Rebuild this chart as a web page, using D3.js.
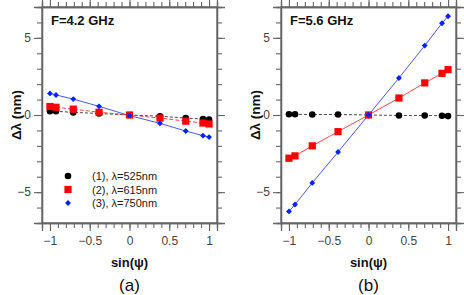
<!DOCTYPE html>
<html>
<head>
<meta charset="utf-8">
<script src="https://cdn.jsdelivr.net/npm/d3@7"></script>
<style>
  body { margin: 0; background: #fff; }
  svg { display: block; font-family: "Liberation Sans", Arial, sans-serif; }
</style>
</head>
<body>
<div id="chart"></div>
<script>
// sin(psi) values used for every series
var sinPsi = [-1, -0.924, -0.707, -0.383, 0, 0.383, 0.707, 0.924, 1];

// panel (a), F = 4.2 GHz
var a525 = [0.24, 0.24, 0.17, 0.1, 0, -0.08, -0.2, -0.26, -0.3];
var a615 = [0.55, 0.5, 0.38, 0.18, 0, -0.2, -0.4, -0.52, -0.58];
var a750 = [1.4, 1.3, 1.03, 0.56, -0.04, -0.54, -1.04, -1.34, -1.43];

// panel (b), F = 5.6 GHz
var b525 = [0.05, 0.05, 0.03, 0.03, 0, -0.03, -0.03, -0.05, -0.07];
var b615 = [-2.8, -2.65, -2.0, -1.08, 0, 1.1, 2.08, 2.7, 2.94];
var b750 = [-6.25, -5.8, -4.4, -2.4, 0, 2.4, 4.5, 5.95, 6.4];

var panelTitles = ["F=4.2 GHz", "F=5.6 GHz"];
var panelTags = ["(a)", "(b)"];
var legendLabels = ["(1), \u03bb=525nm", "(2), \u03bb=615nm", "(3), \u03bb=750nm"];
var yTickLabels = [-5, 0, 5];
var xTickLabels = [-1, -0.5, 0, 0.5, 1];

var svg = d3.select("#chart").append("svg")
    .attr("width", 464)
    .attr("height", 295);

var panels = [
  {left: 42, series: [a525, a615, a750], dash: ["3,2", "4,2", null]},
  {left: 281, series: [b525, b615, b750], dash: ["3,2", null, null]}
];
var plotW = 175, plotTop = 7, plotH = 216;

var colors = ["#000000", "#ff0000", "#0022ff"];
var lineColors = ["#333333", "#ff3333", "#3344ff"];

function fmt(v) { return v < 0 ? "\u2212" + Math.abs(v) : "" + v; }

function drawMarker(g, k, x, y) {
  if (k == 0) {
    g.append("circle").attr("cx", x).attr("cy", y).attr("r", 3.3).attr("fill", colors[0]);
  } else if (k == 1) {
    g.append("rect").attr("x", x - 3.6).attr("y", y - 3.6).attr("width", 7.2).attr("height", 7.2).attr("fill", colors[1]);
  } else {
    g.append("path").attr("d", d3.symbol(d3.symbolDiamond2, 22)()).attr("transform", "translate(" + x + "," + y + ")")
      .attr("fill", colors[2]);
  }
}

panels.forEach(function(p, pi) {
  var g = svg.append("g").attr("transform", "translate(" + p.left + "," + plotTop + ")");

  var xScale = d3.scaleLinear().domain([-1.1, 1.1]).range([0, plotW]);
  var yScale = d3.scaleLinear().domain([-7, 7]).range([plotH, 0]);

  var xMinor = d3.range(-10, 11).map(function(d) { return d / 10; });
  var yMinor = d3.range(-6, 7);

  function styleAxis(sel) {
    sel.selectAll("path").attr("stroke", "#666").attr("stroke-width", 1.3);
    sel.selectAll("line").attr("stroke", "#666").attr("stroke-width", 1.1);
    sel.selectAll("text").attr("fill", "#444").attr("font-size", "12px");
  }

  // minor ticks on all four sides
  [[d3.axisBottom(xScale), "translate(0," + plotH + ")"],
   [d3.axisTop(xScale), "translate(0,0)"]].forEach(function(a) {
    g.append("g").attr("transform", a[1])
      .call(a[0].tickValues(xMinor).tickSize(5).tickFormat("")).call(styleAxis);
  });
  [[d3.axisLeft(yScale), "translate(0,0)"],
   [d3.axisRight(yScale), "translate(" + plotW + ",0)"]].forEach(function(a) {
    g.append("g").attr("transform", a[1])
      .call(a[0].tickValues(yMinor).tickSize(5).tickFormat("")).call(styleAxis);
  });

  // major ticks with labels
  g.append("g").attr("transform", "translate(0," + plotH + ")")
    .call(d3.axisBottom(xScale).tickValues(xTickLabels).tickSize(8).tickPadding(5).tickFormat(fmt))
    .call(styleAxis);
  g.append("g").attr("transform", "translate(0,0)")
    .call(d3.axisTop(xScale).tickValues(xTickLabels).tickSize(8).tickFormat(""))
    .call(styleAxis);
  g.append("g")
    .call(d3.axisLeft(yScale).tickValues(yTickLabels).tickSize(8).tickPadding(3).tickFormat(fmt))
    .call(styleAxis);
  g.append("g").attr("transform", "translate(" + plotW + ",0)")
    .call(d3.axisRight(yScale).tickValues(yTickLabels).tickSize(8).tickFormat(""))
    .call(styleAxis);

  // frame
  g.append("rect").attr("width", plotW).attr("height", plotH)
    .attr("fill", "none").attr("stroke", "#666").attr("stroke-width", 1.3);

  var line = d3.line()
    .x(function(d, i) { return xScale(sinPsi[i]); })
    .y(function(d) { return yScale(d); });

  p.series.forEach(function(s, k) {
    g.append("path").datum(s)
      .attr("d", line)
      .attr("fill", "none")
      .attr("stroke", lineColors[k])
      .attr("stroke-width", 0.9)
      .attr("stroke-dasharray", p.dash[k]);
  });
  p.series.forEach(function(s, k) {
    s.forEach(function(v, i) { drawMarker(g, k, xScale(sinPsi[i]), yScale(v)); });
  });

  g.append("text").attr("x", 9).attr("y", 18)
    .attr("font-size", "13px").attr("font-weight", "bold").attr("fill", "#111")
    .text(panelTitles[pi]);

  g.append("text")
    .attr("transform", "translate(" + (-21) + "," + (plotH / 2) + ") rotate(-90)")
    .attr("text-anchor", "middle").attr("font-size", "13.5px").attr("font-weight", "bold").attr("fill", "#111")
    .text("\u0394\u03bb (nm)");

  g.append("text").attr("x", xScale(0)).attr("y", 260)
    .attr("text-anchor", "middle").attr("font-size", "13px").attr("font-weight", "bold").attr("fill", "#111")
    .text("sin(\u03c8)");

  g.append("text").attr("x", xScale(0)).attr("y", 284)
    .attr("text-anchor", "middle").attr("font-size", "17px").attr("fill", "#111")
    .text(panelTags[pi]);

  if (pi == 0) {
    legendLabels.forEach(function(lbl, k) {
      var ly = 169 + k * 13.5;
      drawMarker(g, k, 26, ly);
      g.append("text").attr("x", 50).attr("y", ly + 4)
        .attr("font-size", "11px").attr("fill", "#222").text(lbl);
    });
  }
});
</script>
</body>
</html>
